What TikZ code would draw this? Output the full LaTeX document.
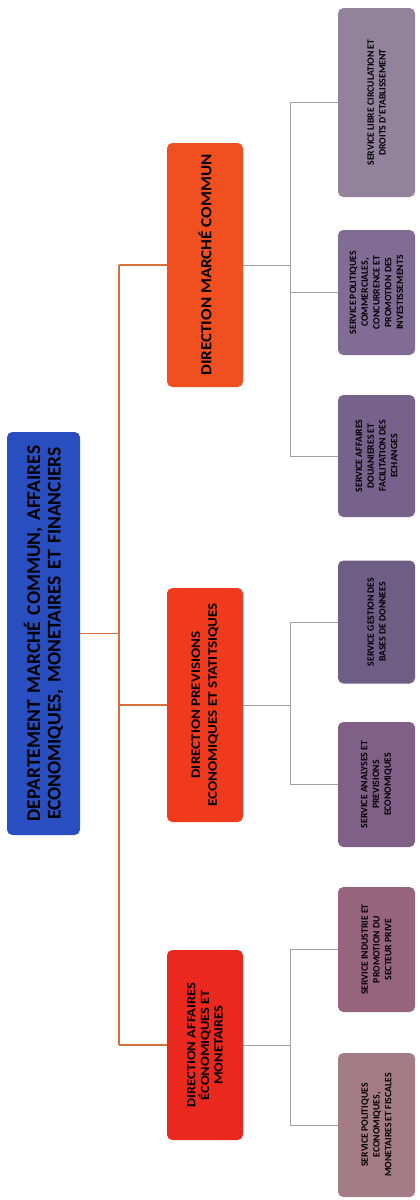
\documentclass[tikz,border=0pt]{standalone}
\usepackage{graphicx}
\usepackage{fontspec}
\setmainfont{Carlito}
\newfontfamily\fwideB{Carlito}[FakeStretch=1.15]
\definecolor{cRoot}{RGB}{40,78,192}
\definecolor{cMC}{RGB}{240,80,32}
\definecolor{cPE}{RGB}{240,58,30}
\definecolor{cAE}{RGB}{234,40,30}
\definecolor{cS1}{RGB}{146,130,156}
\definecolor{cS2}{RGB}{128,108,148}
\definecolor{cS3}{RGB}{118,98,138}
\definecolor{cS4}{RGB}{110,94,134}
\definecolor{cS5}{RGB}{128,96,134}
\definecolor{cS6}{RGB}{150,100,124}
\definecolor{cS7}{RGB}{164,124,134}
\definecolor{cRed}{RGB}{212,112,60}
\definecolor{cGray}{RGB}{160,160,160}
\begin{document}
\begin{tikzpicture}[x=0.75pt,y=-0.75pt,
  box/.style={rotate=90, rounded corners=4pt, inner sep=1pt, align=center, text=black},
  rootbox/.style={box, fill=cRoot, font=\fontsize{14.6}{15.5}\selectfont\bfseries},
  dirbox/.style={box},
  servbox/.style={box, font=\fontsize{7.3}{8.8}\selectfont\bfseries},
  redline/.style={draw=cRed, line width=0.8pt},
  grayline/.style={draw=cGray, line width=0.6pt}]
\useasboundingbox (0,0) rectangle (419,1200);
% root
\node[rootbox, minimum width=403*0.75pt, minimum height=73*0.75pt, text width=395*0.75pt] (root) at (43.5,633.5)
  {DEPARTEMENT MARCHÉ COMMUN, AFFAIRES\\ECONOMIQUES, MONETAIRES ET FINANCIERS};
% directions
\node[dirbox, fill=cMC, font=\fontsize{11.5}{13}\selectfont\bfseries, minimum width=244*0.75pt, minimum height=76*0.75pt] (dMC) at (205,265)
  {\resizebox{166pt}{\height}{DIRECTION MARCHÉ COMMUN}};
\node[dirbox, fill=cPE, font=\fwideB\fontsize{9.8}{12.5}\selectfont\bfseries, minimum width=234*0.75pt, minimum height=76*0.75pt] (dPE) at (205,705)
  {DIRECTION PREVISIONS\\ECONOMIQUES ET STATITSIQUES};
\node[dirbox, fill=cAE, font=\fwideB\fontsize{9.4}{10.2}\selectfont\bfseries, minimum width=190*0.75pt, minimum height=76*0.75pt] (dAE) at (205,1045)
  {DIRECTION AFFAIRES\\ÉCONOMIQUES ET\\MONETAIRES};
% services
\node[servbox, fill=cS1, minimum width=189*0.75pt, minimum height=77*0.75pt] (s1) at (376.5,102.5)
  {SERVICE LIBRE CIRCULATION ET\\DROITS D'ETABLISSEMENT};
\node[servbox, fill=cS2, minimum width=125*0.75pt, minimum height=77*0.75pt] (s2) at (376.5,292.5)
  {SERVICE POLITIQUES\\COMMERCIALES,\\CONCURRENCE ET\\PROMOTION DES\\INVESTISSEMENTS};
\node[servbox, fill=cS3, minimum width=122*0.75pt, minimum height=77*0.75pt] (s3) at (376.5,456)
  {SERVICE AFFAIRES\\DOUANIERES ET\\FACILITATION DES\\ECHANGES};
\node[servbox, fill=cS4, minimum width=123*0.75pt, minimum height=77*0.75pt] (s4) at (376.5,622)
  {SERVICE GESTION DES\\BASES DE DONNEES};
\node[servbox, fill=cS5, minimum width=125*0.75pt, minimum height=77*0.75pt] (s5) at (376.5,784.5)
  {SERVICE ANALYSES ET\\PREVISIONS\\ECONOMIQUES};
\node[servbox, fill=cS6, minimum width=125*0.75pt, minimum height=77*0.75pt] (s6) at (376.5,949.5)
  {SERVICE INDUSTRIE ET\\PROMOTION DU\\SECTEUR PRIVE};
\node[servbox, fill=cS7, minimum width=144*0.75pt, minimum height=77*0.75pt] (s7) at (376.5,1125)
  {SERVICE POLITIQUES\\ECONOMIQUES,\\MONETAIRES ET FISCALES};
% buses
\coordinate (busA) at (119,0);
\coordinate (busB) at (290,0);
% red connectors
\draw[redline] (root.south) -- (root.south -| busA);
\draw[redline] (dMC.north -| busA) -- (dAE.north -| busA);
\foreach \d in {dMC,dPE,dAE} \draw[redline] (\d.north -| busA) -- (\d.north);
% gray connectors
\foreach \d/\a/\b in {dMC/s1/s3, dPE/s4/s5, dAE/s6/s7} {
  \draw[grayline] (\d.south) -- (\d.south -| busB);
  \draw[grayline] (\a.north -| busB) -- (\b.north -| busB);
}
\foreach \s in {s1,s2,s3,s4,s5,s6,s7} \draw[grayline] (\s.north -| busB) -- (\s.north);
\end{tikzpicture}
\end{document}
